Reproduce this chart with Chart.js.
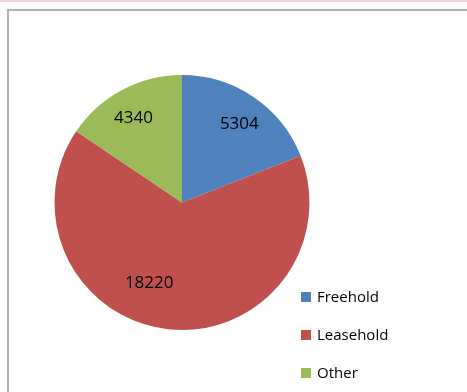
<!DOCTYPE html>
<html>
<head>
<meta charset="utf-8">
<script src="https://cdn.jsdelivr.net/npm/chart.js@4"></script>
<style>
    html, body { margin: 0; padding: 0; background: #fff; }
    #wrap { position: relative; width: 467px; height: 392px; }
</style>
</head>
<body>
<div id="wrap"><canvas id="chart-container" width="467" height="392"></canvas></div>
<script>
// chart data
const categories = ["Freehold", "Leasehold", "Other"];
const tenureCounts = [5304, 18220, 4340];
const sliceColors = ["#4F81BD", "#C0504D", "#9BBB59"];

// Excel-ish "best fit" placement of the value labels (degrees shift, fraction of radius)
const labelAngleShift = [2, 16, -2];
const labelRadius = [0.76, 0.68, 0.76];

// Frame + value labels + legend drawn by hand
const excelLook = {
    id: 'excelLook',
    beforeDraw(chart) {
        const ctx = chart.ctx;
        ctx.save();
        ctx.fillStyle = '#fff';
        ctx.fillRect(0, 0, chart.width, chart.height);
        // pink strip at the very top
        ctx.fillStyle = '#f3d3d6';
        ctx.fillRect(0, 0, chart.width, 2);
        // grey chart frame (top + left)
        ctx.strokeStyle = '#b2b2b2';
        ctx.lineWidth = 2;
        ctx.beginPath();
        ctx.moveTo(8, chart.height);
        ctx.lineTo(8, 10);
        ctx.lineTo(chart.width, 10);
        ctx.stroke();
        ctx.restore();
    },
    afterDraw(chart) {
        const ctx = chart.ctx;
        const meta = chart.getDatasetMeta(0);
        ctx.save();
        ctx.fillStyle = '#000';
        ctx.font = '17px "Open Sans"';
        ctx.textAlign = 'center';
        ctx.textBaseline = 'middle';
        meta.data.forEach((arc, i) => {
            const mid = (arc.startAngle + arc.endAngle) / 2 + labelAngleShift[i] * Math.PI / 180;
            const r = arc.outerRadius * labelRadius[i];
            ctx.fillText(String(tenureCounts[i]), arc.x + Math.cos(mid) * r, arc.y + Math.sin(mid) * r);
        });

        // legend
        ctx.font = '15px "Open Sans"';
        ctx.textAlign = 'left';
        categories.forEach((label, i) => {
            const y = 297 + i * 38;
            ctx.fillStyle = sliceColors[i];
            ctx.fillRect(301, y - 5, 10, 10);
            ctx.fillStyle = '#000';
            ctx.fillText(label, 317, y + 1);
        });
        ctx.restore();
    }
};

new Chart(document.getElementById('chart-container').getContext('2d'), {
    type: 'pie',
    data: {
        labels: categories,
        datasets: [{
            data: tenureCounts,
            backgroundColor: sliceColors,
            borderWidth: 0
        }]
    },
    options: {
        responsive: false,
        animation: false,
        layout: {
            padding: { left: 54, top: 75, right: 157, bottom: 62 }
        },
        plugins: {
            legend: { display: false },
            tooltip: { enabled: false }
        }
    },
    plugins: [excelLook]
});
</script>
</body>
</html>
